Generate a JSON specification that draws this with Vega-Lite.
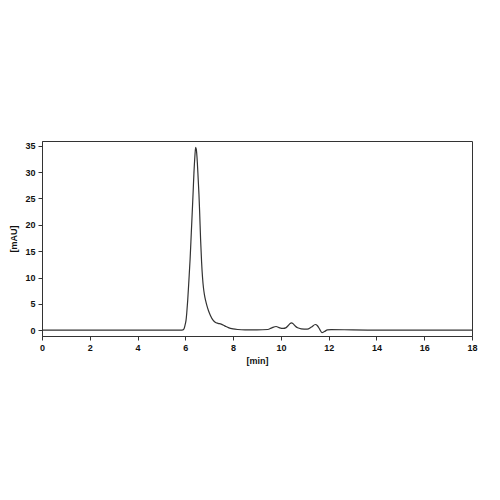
{
  "$schema": "https://vega.github.io/schema/vega-lite/v6.json",
  "width": 430,
  "height": 195,
  "autosize": "none",
  "padding": {"left": 42, "top": 141, "right": 28, "bottom": 164},
  "background": "white",
  "config": {
    "view": {"stroke": "#333333", "strokeWidth": 1},
    "font": "Liberation Sans",
    "axis": {
      "grid": false,
      "domainColor": "#333333",
      "tickColor": "#333333",
      "tickSize": 4,
      "labelFontSize": 9,
      "labelFontWeight": "bold",
      "labelColor": "#111111",
      "titleFontSize": 9,
      "titleFontWeight": "bold",
      "titleColor": "#111111"
    }
  },
  "data": {
    "values": [
      {"t": 0, "mau": 0},
      {"t": 5.8, "mau": 0},
      {"t": 5.9, "mau": 0.05},
      {"t": 5.95, "mau": 0.3},
      {"t": 6.0, "mau": 1.2},
      {"t": 6.03, "mau": 1.9},
      {"t": 6.06, "mau": 3.3},
      {"t": 6.1, "mau": 5.7},
      {"t": 6.15, "mau": 9.5},
      {"t": 6.2, "mau": 13.5},
      {"t": 6.25, "mau": 18.5},
      {"t": 6.3, "mau": 23.5},
      {"t": 6.33, "mau": 26.6},
      {"t": 6.36, "mau": 29.8},
      {"t": 6.4, "mau": 33},
      {"t": 6.43, "mau": 34.7},
      {"t": 6.46, "mau": 34.3},
      {"t": 6.5, "mau": 32},
      {"t": 6.54, "mau": 28.5},
      {"t": 6.57, "mau": 25.8},
      {"t": 6.6, "mau": 22.3},
      {"t": 6.64, "mau": 17.1},
      {"t": 6.68, "mau": 13},
      {"t": 6.72, "mau": 10},
      {"t": 6.76, "mau": 8},
      {"t": 6.8, "mau": 6.7},
      {"t": 6.85, "mau": 5.6},
      {"t": 6.9, "mau": 4.7},
      {"t": 6.97, "mau": 3.7},
      {"t": 7.05, "mau": 2.8},
      {"t": 7.16, "mau": 1.9},
      {"t": 7.25, "mau": 1.5},
      {"t": 7.37, "mau": 1.3},
      {"t": 7.5, "mau": 1.15},
      {"t": 7.6, "mau": 0.95},
      {"t": 7.7, "mau": 0.7},
      {"t": 7.8, "mau": 0.5},
      {"t": 8.0, "mau": 0.25},
      {"t": 8.2, "mau": 0.13},
      {"t": 8.5, "mau": 0.06},
      {"t": 9.0, "mau": 0.05},
      {"t": 9.45, "mau": 0.13},
      {"t": 9.62, "mau": 0.45},
      {"t": 9.8, "mau": 0.7},
      {"t": 9.95, "mau": 0.45},
      {"t": 10.1, "mau": 0.35},
      {"t": 10.2, "mau": 0.45},
      {"t": 10.3, "mau": 0.85},
      {"t": 10.38, "mau": 1.25},
      {"t": 10.44, "mau": 1.4},
      {"t": 10.52, "mau": 1.2},
      {"t": 10.6, "mau": 0.8},
      {"t": 10.7, "mau": 0.45},
      {"t": 10.85, "mau": 0.27},
      {"t": 11.1, "mau": 0.2},
      {"t": 11.28, "mau": 0.6},
      {"t": 11.44, "mau": 1.08},
      {"t": 11.53, "mau": 0.85},
      {"t": 11.62, "mau": 0.2},
      {"t": 11.72, "mau": -0.45},
      {"t": 11.82, "mau": -0.25},
      {"t": 11.95, "mau": 0.05},
      {"t": 12.1, "mau": 0.12},
      {"t": 13, "mau": 0.06},
      {"t": 14, "mau": 0.02},
      {"t": 16, "mau": 0.0},
      {"t": 18, "mau": 0.0}
    ]
  },
  "mark": {"type": "line", "interpolate": "monotone", "color": "#333333", "strokeWidth": 1.2, "clip": true},
  "encoding": {
    "x": {
      "field": "t",
      "type": "quantitative",
      "title": "[min]",
      "scale": {"domain": [0, 18], "nice": false, "zero": false},
      "axis": {"values": [0, 2, 4, 6, 8, 10, 12, 14, 16, 18], "labelPadding": 3, "titlePadding": 4, "labelFlush": false}
    },
    "y": {
      "field": "mau",
      "type": "quantitative",
      "title": "[mAU]",
      "scale": {"domain": [-1.1, 35.9], "nice": false, "zero": false},
      "axis": {"values": [0, 5, 10, 15, 20, 25, 30, 35], "labelPadding": 3, "titlePadding": 6}
    }
  }
}
